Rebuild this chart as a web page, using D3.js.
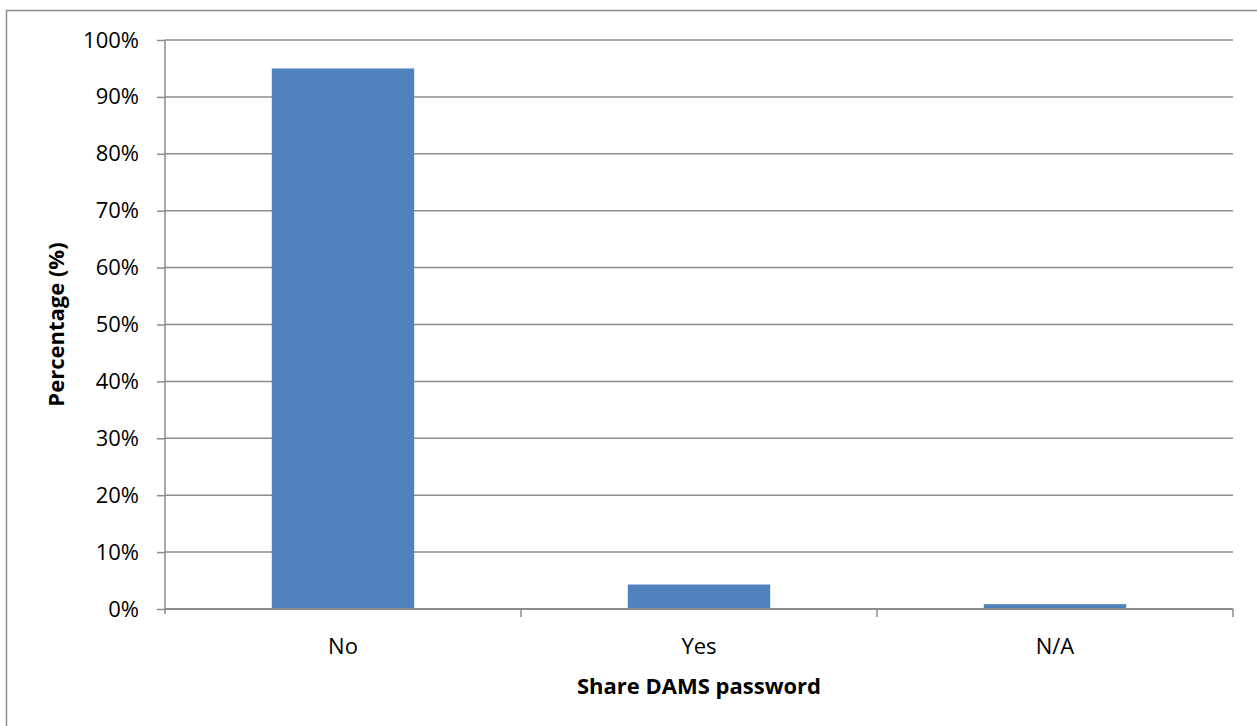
<!DOCTYPE html>
<html>
<head>
<meta charset="utf-8">
<script src="https://cdn.jsdelivr.net/npm/d3@7/dist/d3.min.js"></script>
<style>
  html, body { margin: 0; padding: 0; background: #fff; }
  svg { display: block; font-family: "Open Sans", "DejaVu Sans", sans-serif; }
</style>
</head>
<body>
<svg id="chart" width="1257" height="726"></svg>
<script>
// Survey responses: does the user share their DAMS password?
const categories = ["No", "Yes", "N/A"];
const percentages = [95.0, 4.3, 0.85];
const yTicks = [0, 10, 20, 30, 40, 50, 60, 70, 80, 90, 100];

const svg = d3.select("#chart");
const margin = { left: 165, right: 24, top: 40, bottom: 117 };
const W = 1257, H = 726;
const x0 = margin.left, x1 = W - margin.right;
const yTop = margin.top, yBot = H - margin.bottom;
const grey = "#8c8c8c";

// Outer chart frame
svg.append("rect")
  .attr("x", 6.5).attr("y", 10.5)
  .attr("width", 1260).attr("height", 730)
  .attr("fill", "none").attr("stroke", grey).attr("stroke-width", 1.5);

const x = d3.scaleBand().domain(categories).range([x0, x1])
  .paddingInner(0.6).paddingOuter(0.3);
const y = d3.scaleLinear().domain([0, 100]).range([yBot, yTop]);

// Horizontal gridlines
svg.append("g").selectAll("line").data(yTicks.filter(t => t > 0)).join("line")
  .attr("x1", x0).attr("x2", x1)
  .attr("y1", d => y(d)).attr("y2", d => y(d))
  .attr("stroke", grey).attr("stroke-width", 1.5);

// Bars
svg.append("g").selectAll("rect").data(categories).join("rect")
  .attr("x", d => x(d))
  .attr("width", x.bandwidth())
  .attr("y", (d, i) => y(percentages[i]))
  .attr("height", (d, i) => y(0) - y(percentages[i]))
  .attr("fill", "#4f81bd");

// Y axis
const yAxis = d3.axisLeft(y).tickValues(yTicks).tickFormat(d => d + "%")
  .tickSize(8).tickPadding(18);
const gy = svg.append("g").attr("transform", `translate(${x0},0)`).call(yAxis);
gy.select(".domain").attr("stroke", grey).attr("stroke-width", 1.5)
  .attr("d", `M0,${yTop}V${yBot + 5}`);
gy.selectAll(".tick line").attr("stroke", grey).attr("stroke-width", 1.5);
gy.selectAll(".tick text").attr("font-size", 22).attr("fill", "#000")
  .attr("font-family", "Open Sans, sans-serif");

// X axis: baseline with separator ticks between categories
const gx = svg.append("g");
gx.append("line").attr("x1", x0).attr("x2", x1).attr("y1", yBot).attr("y2", yBot)
  .attr("stroke", grey).attr("stroke-width", 2);
const step = x.step();
gx.selectAll("line.sep").data(categories).join("line").attr("class", "sep")
  .attr("x1", d => x(d) - x.paddingOuter() * step + step)
  .attr("x2", d => x(d) - x.paddingOuter() * step + step)
  .attr("y1", yBot).attr("y2", yBot + 8)
  .attr("stroke", grey).attr("stroke-width", 1.5);
gx.selectAll("text").data(categories).join("text")
  .attr("x", d => x(d) + x.bandwidth() / 2)
  .attr("y", 654)
  .attr("text-anchor", "middle")
  .attr("font-size", 22).attr("fill", "#000")
  .text(d => d);

// Axis titles
svg.append("text")
  .attr("x", (x0 + x1) / 2).attr("y", 694)
  .attr("text-anchor", "middle").attr("font-size", 22).attr("font-weight", "bold")
  .text("Share DAMS password");
svg.append("text")
  .attr("transform", `translate(64,${(yTop + yBot) / 2}) rotate(-90)`)
  .attr("text-anchor", "middle").attr("font-size", 22).attr("font-weight", "bold")
  .text("Percentage (%)");
</script>
</body>
</html>
